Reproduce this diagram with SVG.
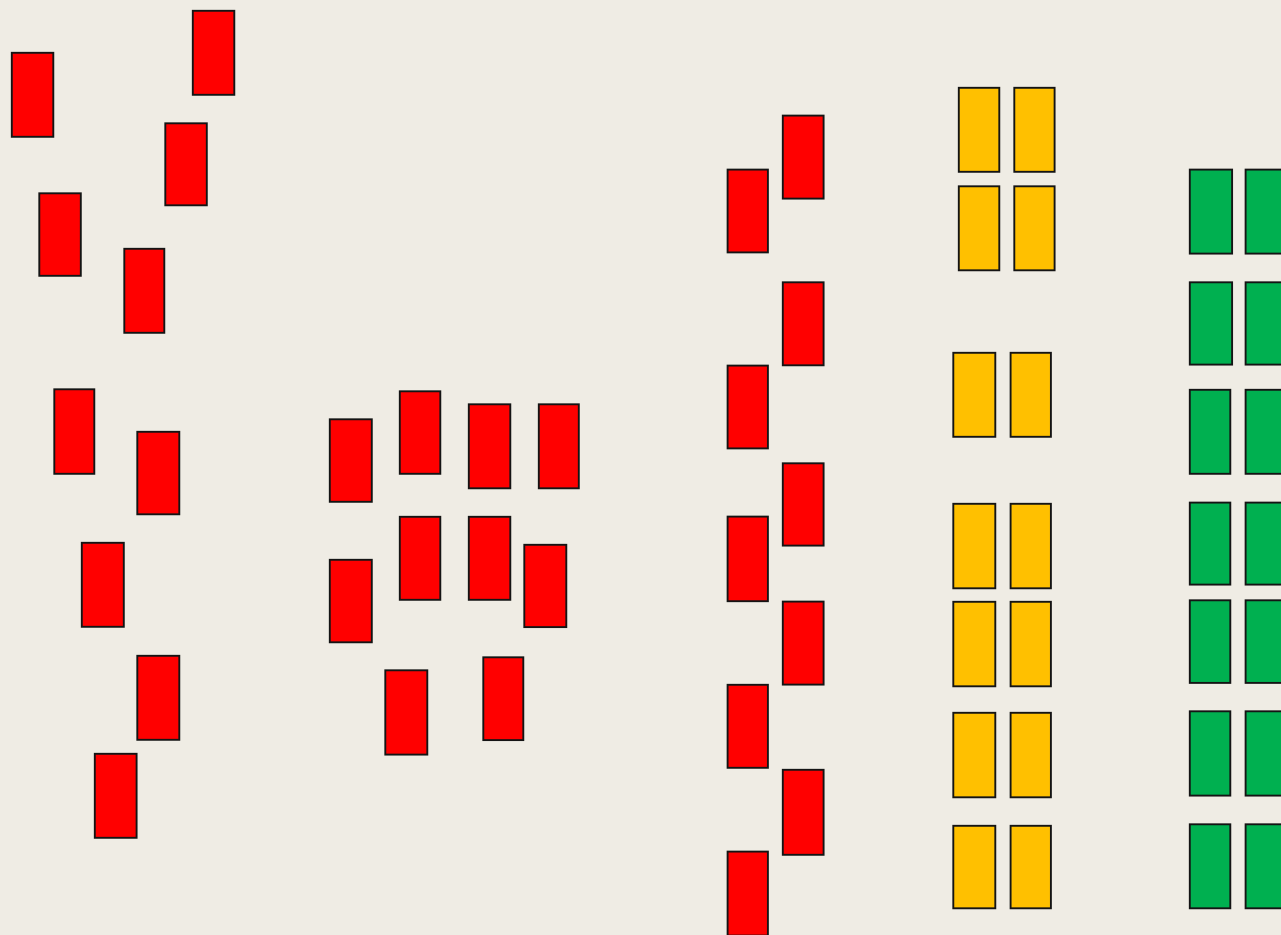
<svg xmlns="http://www.w3.org/2000/svg" width="1281" height="935" viewBox="0 0 1281 935">
<style>
rect.b{stroke:#141414;stroke-width:1.9}
.r{fill:#FF0000}
.y{fill:#FFC000}
.g{fill:#00B050}
</style>
<rect x="0" y="0" width="1281" height="935" fill="#EFECE4"/>
<g id="cluster-left">
<rect class="b r" x="11.8" y="52.8" width="41.5" height="84"/>
<rect class="b r" x="192.8" y="10.8" width="41.5" height="84"/>
<rect class="b r" x="165.3" y="123.3" width="41.5" height="82"/>
<rect class="b r" x="39.3" y="193.3" width="41.5" height="82.5"/>
<rect class="b r" x="124.3" y="248.8" width="40" height="84"/>
<rect class="b r" x="54.3" y="389.3" width="40" height="84.5"/>
<rect class="b r" x="137.3" y="431.8" width="42" height="82.5"/>
<rect class="b r" x="81.8" y="542.8" width="42" height="84"/>
<rect class="b r" x="137.3" y="655.8" width="42" height="84"/>
<rect class="b r" x="94.8" y="753.8" width="41.8" height="84"/>
</g>
<g id="cluster-middle">
<rect class="b r" x="329.8" y="419.3" width="42" height="82.5"/>
<rect class="b r" x="399.8" y="391.3" width="40.5" height="82.5"/>
<rect class="b r" x="468.8" y="404.3" width="41.5" height="84"/>
<rect class="b r" x="538.8" y="404.3" width="40" height="84"/>
<rect class="b r" x="329.8" y="559.8" width="42" height="82.5"/>
<rect class="b r" x="399.8" y="516.8" width="40.5" height="83"/>
<rect class="b r" x="468.8" y="516.8" width="41.5" height="83"/>
<rect class="b r" x="524.3" y="544.8" width="42" height="82.3"/>
<rect class="b r" x="385.3" y="670.3" width="42" height="84.3"/>
<rect class="b r" x="483.3" y="657.3" width="40" height="82.8"/>
</g>
<g id="column-red">
<rect class="b r" x="782.8" y="115.6" width="40.8" height="83"/>
<rect class="b r" x="727.6" y="169.6" width="40.3" height="82.8"/>
<rect class="b r" x="782.8" y="282.3" width="40.8" height="83"/>
<rect class="b r" x="727.6" y="365.6" width="40.3" height="82.8"/>
<rect class="b r" x="782.8" y="463.3" width="40.8" height="82.3"/>
<rect class="b r" x="727.6" y="516.6" width="40.3" height="84.6"/>
<rect class="b r" x="782.8" y="601.6" width="40.8" height="83"/>
<rect class="b r" x="727.6" y="684.8" width="40.3" height="83"/>
<rect class="b r" x="782.8" y="769.8" width="40.8" height="85"/>
<rect class="b r" x="727.6" y="851.6" width="40.3" height="84"/>
</g>
<g id="column-yellow">
<rect class="b y" x="958.8" y="87.8" width="40.5" height="84"/>
<rect class="b y" x="1014.3" y="87.8" width="40.3" height="84"/>
<rect class="b y" x="958.8" y="186.3" width="40.5" height="84"/>
<rect class="b y" x="1014.3" y="186.3" width="40.3" height="84"/>
<rect class="b y" x="953.3" y="352.8" width="42" height="84"/>
<rect class="b y" x="1010.6" y="352.8" width="40.3" height="84"/>
<rect class="b y" x="953.3" y="503.8" width="42" height="84.5"/>
<rect class="b y" x="1010.6" y="503.8" width="40.3" height="84.5"/>
<rect class="b y" x="953.3" y="601.8" width="42" height="84.5"/>
<rect class="b y" x="1010.6" y="601.8" width="40.3" height="84.5"/>
<rect class="b y" x="953.3" y="712.8" width="42" height="84.5"/>
<rect class="b y" x="1010.6" y="712.8" width="40.3" height="84.5"/>
<rect class="b y" x="953.3" y="825.8" width="42" height="82.5"/>
<rect class="b y" x="1010.6" y="825.8" width="40.3" height="82.5"/>
</g>
<g id="column-green">
<rect class="b g" x="1189.8" y="169.6" width="42.3" height="84"/>
<rect class="b g" x="1245.6" y="169.6" width="42" height="84"/>
<rect class="b g" x="1189.8" y="282.3" width="42.3" height="82.3"/>
<rect class="b g" x="1245.6" y="282.3" width="42" height="82.3"/>
<rect class="b g" x="1189.8" y="389.8" width="40.5" height="84"/>
<rect class="b g" x="1245.6" y="389.8" width="42" height="84"/>
<rect class="b g" x="1189.8" y="502.6" width="40.5" height="82"/>
<rect class="b g" x="1245.6" y="502.6" width="42" height="82"/>
<rect class="b g" x="1189.8" y="600.3" width="40.5" height="82.6"/>
<rect class="b g" x="1245.6" y="600.3" width="42" height="82.6"/>
<rect class="b g" x="1189.8" y="711.3" width="40.5" height="84.3"/>
<rect class="b g" x="1245.6" y="711.3" width="42" height="84.3"/>
<rect class="b g" x="1189.8" y="824.3" width="40.5" height="84"/>
<rect class="b g" x="1245.6" y="824.3" width="42" height="84"/>
</g>
</svg>
